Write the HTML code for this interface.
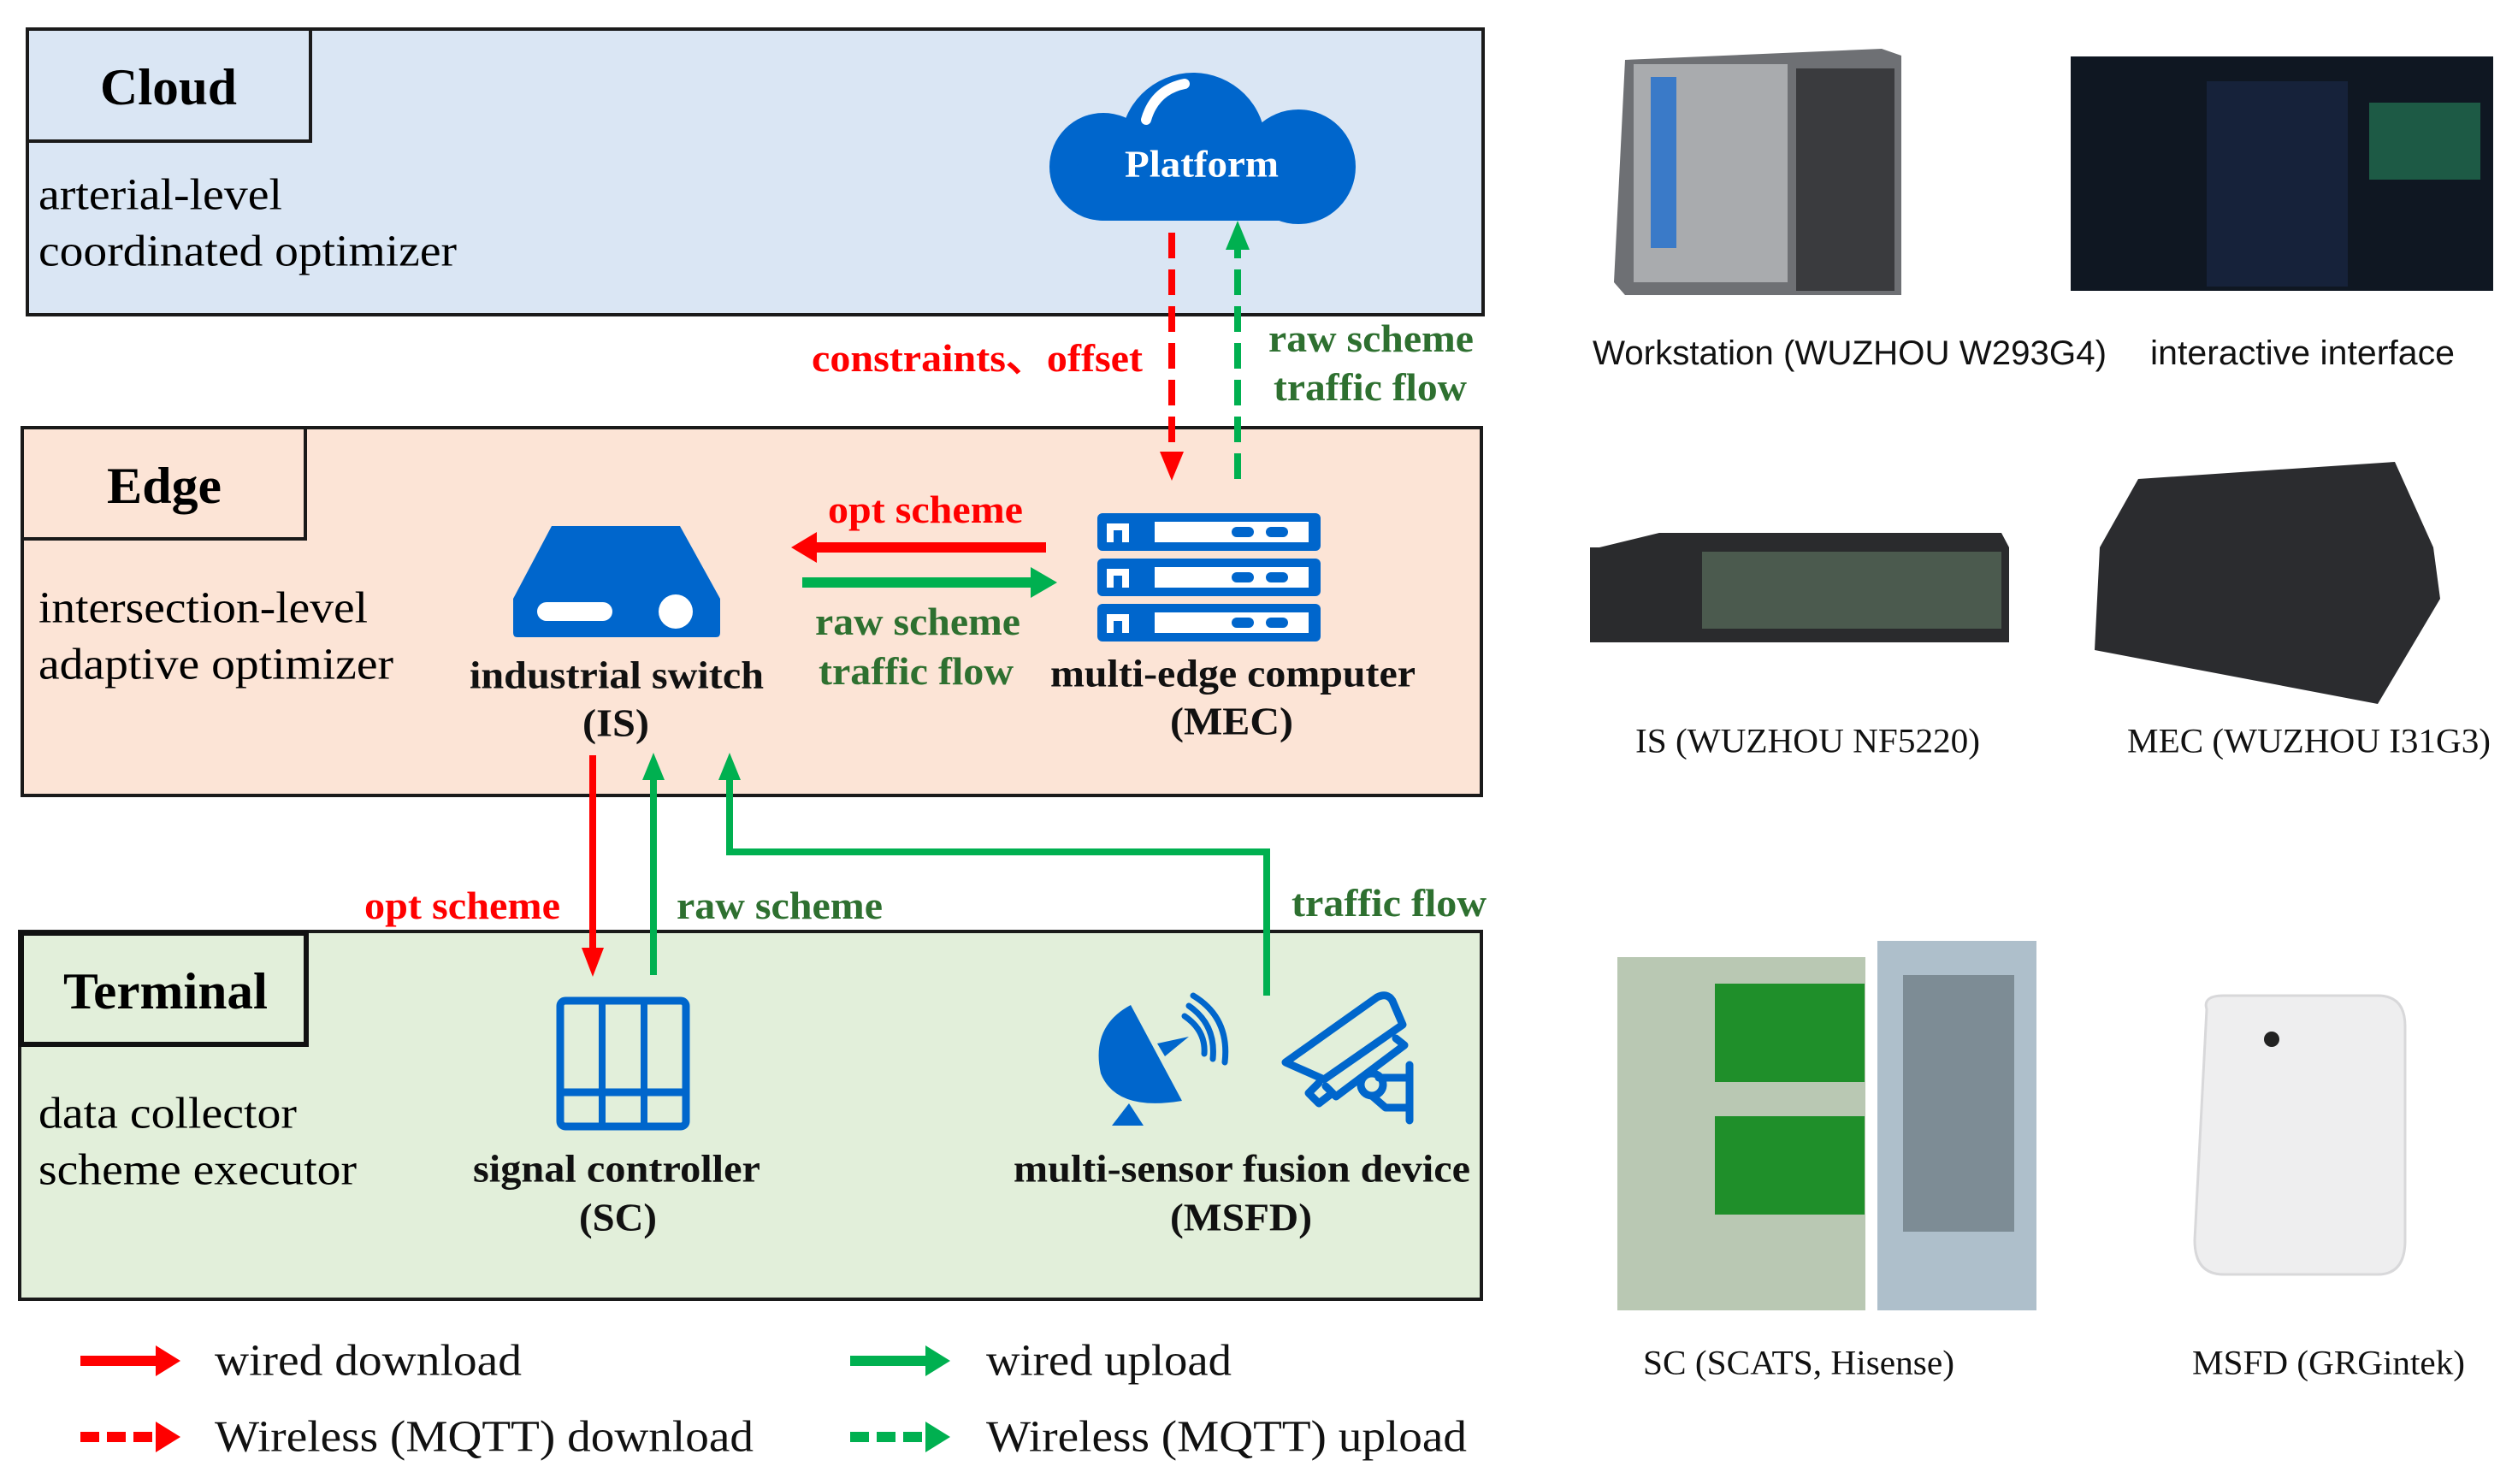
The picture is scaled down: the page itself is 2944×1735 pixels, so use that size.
<!DOCTYPE html>
<html><head><meta charset="utf-8"><style>
html,body{margin:0;padding:0;background:#fff;}
svg{display:block;}
.s{font-family:"Liberation Serif",serif;}
.a{font-family:"Liberation Sans",sans-serif;}
</style></head><body>
<svg width="2944" height="1735" viewBox="0 0 2944 1735" xmlns="http://www.w3.org/2000/svg">
<!-- Cloud layer -->
<rect x="32" y="34" width="1702" height="334" fill="#dae6f4" stroke="#1a1a1a" stroke-width="4"/>
<rect x="32" y="34" width="331" height="131" fill="#dae6f4" stroke="#1a1a1a" stroke-width="4"/>
<g class="s" dominant-baseline="central">
<text x="117" y="102" font-size="60" font-weight="bold" textLength="160" lengthAdjust="spacingAndGlyphs">Cloud</text>
<text x="45" y="228" font-size="52" textLength="285" lengthAdjust="spacingAndGlyphs">arterial-level</text>
<text x="45" y="294" font-size="52" textLength="489" lengthAdjust="spacingAndGlyphs">coordinated optimizer</text>
</g>
<!-- Platform cloud -->
<g fill="#0066cc">
<circle cx="1395" cy="170" r="85"/>
<circle cx="1290" cy="195" r="63"/>
<circle cx="1518" cy="195" r="67"/>
<rect x="1250" y="180" width="310" height="78" rx="40"/>
</g>
<path d="M1340 140 Q1350 105 1385 98" stroke="#fff" stroke-width="12" fill="none" stroke-linecap="round"/>
<text class="s" x="1315" y="192" font-size="44" font-weight="bold" fill="#fff" dominant-baseline="central" textLength="180" lengthAdjust="spacingAndGlyphs">Platform</text>
<g class="s" dominant-baseline="central" font-weight="bold" font-size="45">
<text x="949" y="419" fill="#ff0000" textLength="387" lengthAdjust="spacingAndGlyphs">constraints、offset</text>
<text x="1483" y="396" fill="#2e7030" textLength="240" lengthAdjust="spacingAndGlyphs">raw scheme</text>
<text x="1489" y="453" fill="#2e7030" textLength="226" lengthAdjust="spacingAndGlyphs">traffic flow</text>
</g>
<!-- Edge layer -->
<rect x="26" y="500" width="1706" height="430" fill="#fce4d6" stroke="#1a1a1a" stroke-width="4"/>
<rect x="26" y="500" width="331" height="130" fill="#fce4d6" stroke="#1a1a1a" stroke-width="4"/>
<!-- dashed cloud-edge (drawn after edge box) -->
<line x1="1370" y1="272" x2="1370" y2="530" stroke="#ff0000" stroke-width="8" stroke-dasharray="30 13"/>
<polygon points="1356,528 1384,528 1370,562" fill="#ff0000"/>
<line x1="1447" y1="560" x2="1447" y2="290" stroke="#00b050" stroke-width="8" stroke-dasharray="30 13"/>
<polygon points="1433,292 1461,292 1447,258" fill="#00b050"/>
<g class="s" dominant-baseline="central">
<text x="125" y="568" font-size="60" font-weight="bold" textLength="134" lengthAdjust="spacingAndGlyphs">Edge</text>
<text x="45" y="711" font-size="52" textLength="385" lengthAdjust="spacingAndGlyphs">intersection-level</text>
<text x="45" y="777" font-size="52" textLength="415" lengthAdjust="spacingAndGlyphs">adaptive optimizer</text>
</g>
<!-- switch icon -->
<path d="M645 615 L795 615 L842 700 L842 740 Q842 745 837 745 L605 745 Q600 745 600 740 L600 700 Z" fill="#0066cc"/>
<rect x="628" y="704" width="88" height="22" rx="11" fill="#fff"/>
<circle cx="790" cy="715" r="20" fill="#fff"/>
<!-- MEC icon -->
<g>
<rect x="1283" y="600" width="261" height="44" rx="6" fill="#0066cc"/>
<rect x="1283" y="653" width="261" height="44" rx="6" fill="#0066cc"/>
<rect x="1283" y="706" width="261" height="44" rx="6" fill="#0066cc"/>
<g fill="#fff">
<rect x="1350" y="610" width="180" height="24"/><rect x="1350" y="663" width="180" height="24"/><rect x="1350" y="716" width="180" height="24"/>
<path d="M1294 634 L1294 612 L1320 612 L1320 634 L1312 634 L1312 620 L1302 620 L1302 634Z"/>
<path d="M1294 687 L1294 665 L1320 665 L1320 687 L1312 687 L1312 673 L1302 673 L1302 687Z"/>
<path d="M1294 740 L1294 718 L1320 718 L1320 740 L1312 740 L1312 726 L1302 726 L1302 740Z"/>
</g>
<g fill="#0066cc">
<rect x="1440" y="616" width="26" height="12" rx="6"/><rect x="1480" y="616" width="26" height="12" rx="6"/>
<rect x="1440" y="669" width="26" height="12" rx="6"/><rect x="1480" y="669" width="26" height="12" rx="6"/>
<rect x="1440" y="722" width="26" height="12" rx="6"/><rect x="1480" y="722" width="26" height="12" rx="6"/>
</g>
</g>
<!-- edge horizontal arrows -->
<line x1="1223" y1="640" x2="950" y2="640" stroke="#ff0000" stroke-width="12"/>
<polygon points="955,622 955,658 925,640" fill="#ff0000"/>
<line x1="938" y1="681" x2="1208" y2="681" stroke="#00b050" stroke-width="12"/>
<polygon points="1205,663 1205,699 1236,681" fill="#00b050"/>
<g class="s" dominant-baseline="central" font-weight="bold" font-size="45">
<text x="968" y="596" fill="#ff0000" textLength="228" lengthAdjust="spacingAndGlyphs">opt scheme</text>
<text x="953" y="727" fill="#2e7030" textLength="240" lengthAdjust="spacingAndGlyphs">raw scheme</text>
<text x="957" y="785" fill="#2e7030" textLength="228" lengthAdjust="spacingAndGlyphs">traffic flow</text>
</g>
<g class="s" dominant-baseline="central" font-weight="bold" font-size="46" fill="#111">
<text x="549" y="789" textLength="344" lengthAdjust="spacingAndGlyphs">industrial switch</text>
<text x="681" y="845" textLength="78" lengthAdjust="spacingAndGlyphs">(IS)</text>
<text x="1228" y="787" textLength="427" lengthAdjust="spacingAndGlyphs">multi-edge computer</text>
<text x="1368" y="843" textLength="144" lengthAdjust="spacingAndGlyphs">(MEC)</text>
</g>
<!-- Terminal layer -->
<rect x="23" y="1089" width="1709" height="430" fill="#e2efda" stroke="#1a1a1a" stroke-width="4"/>
<rect x="25" y="1091" width="333" height="130" fill="#e2efda" stroke="#111" stroke-width="6"/>
<g class="s" dominant-baseline="central">
<text x="74" y="1159" font-size="60" font-weight="bold" textLength="239" lengthAdjust="spacingAndGlyphs">Terminal</text>
<text x="45" y="1302" font-size="52" textLength="302" lengthAdjust="spacingAndGlyphs">data collector</text>
<text x="45" y="1368" font-size="52" textLength="372" lengthAdjust="spacingAndGlyphs">scheme executor</text>
</g>
<!-- vertical connectors -->
<line x1="693" y1="883" x2="693" y2="1110" stroke="#ff0000" stroke-width="8"/>
<polygon points="680,1108 706,1108 693,1142" fill="#ff0000"/>
<line x1="764" y1="1140" x2="764" y2="910" stroke="#00b050" stroke-width="8"/>
<polygon points="751,912 777,912 764,880" fill="#00b050"/>
<polyline points="1481,1164 1481,996 853,996 853,910" fill="none" stroke="#00b050" stroke-width="8"/>
<polygon points="840,912 866,912 853,880" fill="#00b050"/>
<g class="s" dominant-baseline="central" font-weight="bold" font-size="45">
<text x="426" y="1059" fill="#ff0000" textLength="229" lengthAdjust="spacingAndGlyphs">opt scheme</text>
<text x="791" y="1059" fill="#2e7030" textLength="241" lengthAdjust="spacingAndGlyphs">raw scheme</text>
<text x="1510" y="1056" fill="#2e7030" textLength="228" lengthAdjust="spacingAndGlyphs">traffic flow</text>
</g>
<!-- SC icon -->
<rect x="655" y="1170" width="147" height="147" rx="6" fill="none" stroke="#0066cc" stroke-width="9"/>
<line x1="704" y1="1170" x2="704" y2="1317" stroke="#0066cc" stroke-width="8"/>
<line x1="753" y1="1170" x2="753" y2="1317" stroke="#0066cc" stroke-width="8"/>
<line x1="655" y1="1277" x2="802" y2="1277" stroke="#0066cc" stroke-width="9"/>
<!-- satellite -->
<path d="M1322 1175 Q1275 1200 1287 1255 Q1305 1300 1382 1287 Z" fill="#0066cc"/>
<polygon points="1300,1316 1337,1316 1320,1290" fill="#0066cc"/>
<polygon points="1353,1220 1390,1212 1362,1235" fill="#0066cc"/>
<g fill="none" stroke="#0066cc" stroke-width="7" stroke-linecap="round">
<path d="M1385 1188 Q1410 1205 1408 1232"/>
<path d="M1390 1176 Q1422 1198 1418 1238"/>
<path d="M1395 1164 Q1438 1190 1432 1242"/>
</g>
<!-- camera -->
<g fill="none" stroke="#0066cc" stroke-width="9" stroke-linejoin="round" stroke-linecap="round">
<path d="M1503 1242 L1610 1166 Q1622 1160 1628 1170 L1640 1198 L1548 1262 Z"/>
<path d="M1632 1214 L1642 1222 L1562 1282 L1550 1270"/>
<path d="M1542 1266 L1530 1278 L1542 1290 L1555 1280"/>
<circle cx="1604" cy="1268" r="13"/>
<path d="M1612 1260 L1648 1260 M1648 1245 L1648 1310 M1605 1282 L1620 1295 L1648 1295"/>
</g>
<g class="s" dominant-baseline="central" font-weight="bold" font-size="46" fill="#111">
<text x="553" y="1366" textLength="336" lengthAdjust="spacingAndGlyphs">signal controller</text>
<text x="677" y="1423" textLength="91" lengthAdjust="spacingAndGlyphs">(SC)</text>
<text x="1185" y="1366" textLength="534" lengthAdjust="spacingAndGlyphs">multi-sensor fusion device</text>
<text x="1368" y="1423" textLength="166" lengthAdjust="spacingAndGlyphs">(MSFD)</text>
</g>
<!-- legend -->
<line x1="94" y1="1591" x2="185" y2="1591" stroke="#ff0000" stroke-width="12"/>
<polygon points="182,1573 182,1609 211,1591" fill="#ff0000"/>
<line x1="94" y1="1680" x2="185" y2="1680" stroke="#ff0000" stroke-width="12" stroke-dasharray="22 9"/>
<polygon points="182,1662 182,1698 211,1680" fill="#ff0000"/>
<line x1="994" y1="1591" x2="1085" y2="1591" stroke="#00b050" stroke-width="12"/>
<polygon points="1082,1573 1082,1609 1111,1591" fill="#00b050"/>
<line x1="994" y1="1680" x2="1085" y2="1680" stroke="#00b050" stroke-width="12" stroke-dasharray="22 9"/>
<polygon points="1082,1662 1082,1698 1111,1680" fill="#00b050"/>
<g class="s" dominant-baseline="central" font-size="52" fill="#111">
<text x="251" y="1591" textLength="359" lengthAdjust="spacingAndGlyphs">wired download</text>
<text x="251" y="1680" textLength="630" lengthAdjust="spacingAndGlyphs">Wireless (MQTT) download</text>
<text x="1153" y="1591" textLength="287" lengthAdjust="spacingAndGlyphs">wired upload</text>
<text x="1153" y="1680" textLength="562" lengthAdjust="spacingAndGlyphs">Wireless (MQTT) upload</text>
</g>
<!-- right side photos (approximations) -->
<polygon points="1887,330 1900,70 2200,57 2223,65 2223,345 1900,345" fill="#6e7074"/>
<rect x="1910" y="75" width="180" height="255" fill="#a9abae"/>
<rect x="1930" y="90" width="30" height="200" fill="#3a7ac8"/>
<rect x="2100" y="80" width="115" height="260" fill="#3a3b3e"/>
<rect x="2421" y="66" width="494" height="274" fill="#0f1722"/>
<rect x="2580" y="95" width="165" height="240" fill="#16223a"/>
<rect x="2770" y="120" width="130" height="90" fill="#1d5a45"/>
<polygon points="1870,640 1940,623 2340,623 2349,640 2349,751 1859,751 1859,640" fill="#2a2b2d"/>
<rect x="1990" y="645" width="350" height="90" fill="#4b5a4e"/>
<polygon points="2455,640 2500,560 2800,540 2845,640 2853,700 2780,823 2449,760" fill="#2b2c2f"/>
<rect x="1891" y="1119" width="290" height="413" fill="#b9c8b3"/>
<rect x="2005" y="1150" width="175" height="115" fill="#1f8f2a"/>
<rect x="2005" y="1305" width="175" height="115" fill="#1f8f2a"/>
<rect x="2195" y="1100" width="186" height="432" fill="#aebfcb"/>
<rect x="2225" y="1140" width="130" height="300" fill="#7d8c95"/>
<path d="M2580 1180 Q2575 1164 2600 1164 L2780 1164 Q2812 1164 2812 1200 L2812 1450 Q2812 1490 2780 1490 L2600 1490 Q2566 1490 2566 1450 Z" fill="#eeeeef" stroke="#d8d8da" stroke-width="3"/>
<circle cx="2656" cy="1215" r="9" fill="#222"/>
<g class="a" dominant-baseline="central" font-size="40" fill="#111">
<text x="1862" y="413" textLength="601" lengthAdjust="spacingAndGlyphs">Workstation (WUZHOU W293G4)</text>
<text x="2514" y="413" textLength="356" lengthAdjust="spacingAndGlyphs">interactive interface</text>
</g>
<g class="s" dominant-baseline="central" font-size="40" fill="#111">
<text x="1912" y="866" textLength="403" lengthAdjust="spacingAndGlyphs">IS (WUZHOU NF5220)</text>
<text x="2487" y="866" textLength="425" lengthAdjust="spacingAndGlyphs">MEC (WUZHOU I31G3)</text>
<text x="1921" y="1593" textLength="364" lengthAdjust="spacingAndGlyphs">SC (SCATS, Hisense)</text>
<text x="2563" y="1593" textLength="319" lengthAdjust="spacingAndGlyphs">MSFD (GRGintek)</text>
</g>
</svg>
</body></html>
